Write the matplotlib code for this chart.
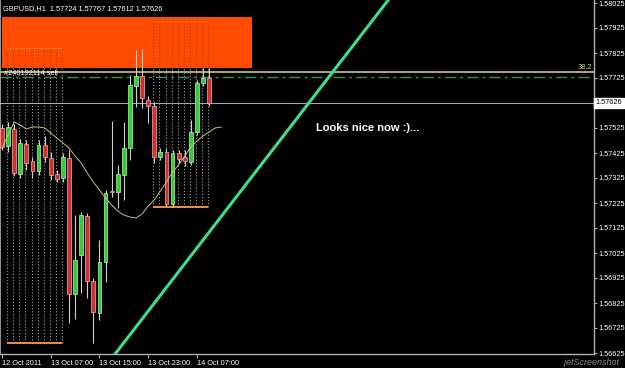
import numpy as np
import matplotlib
matplotlib.use("Agg")
import matplotlib.pyplot as plt
import matplotlib.transforms as mtransforms

# GBPUSD H1 bars, 12 Oct 2011 23:00 .. 14 Oct 2011 09:00
opens = [1.57525, 1.57453, 1.57521, 1.57341, 1.57461, 1.57393, 1.57353, 1.57457, 1.57405, 1.57341,
         1.57325, 1.57405, 1.56861, 1.57017, 1.57173, 1.56913, 1.56785, 1.56989, 1.57273, 1.57269,
         1.57337, 1.57445, 1.57693, 1.57733, 1.57637, 1.57613, 1.57409, 1.57429, 1.57221, 1.57425,
         1.57409, 1.57389, 1.57509, 1.57705, 1.57724]
highs = [1.57541, 1.57549, 1.57541, 1.57481, 1.57477, 1.57409, 1.57477, 1.57493, 1.57429, 1.57357,
         1.57425, 1.57437, 1.57177, 1.57189, 1.57185, 1.56925, 1.57077, 1.57277, 1.57553, 1.57377,
         1.57549, 1.57737, 1.57837, 1.57841, 1.57653, 1.57629, 1.57445, 1.57445, 1.57437, 1.57437,
         1.57437, 1.57557, 1.57717, 1.57765, 1.57767]
lows = [1.57437, 1.57429, 1.57333, 1.57325, 1.57357, 1.57325, 1.57337, 1.57389, 1.57317, 1.57309,
        1.57309, 1.56745, 1.56761, 1.56865, 1.56845, 1.56665, 1.56757, 1.56909, 1.57249, 1.57205,
        1.57237, 1.57397, 1.57609, 1.57605, 1.57545, 1.57385, 1.57397, 1.57213, 1.57209, 1.57385,
        1.57373, 1.57377, 1.57497, 1.57693, 1.57612]
closes = [1.57449, 1.57529, 1.57345, 1.57465, 1.57385, 1.57353, 1.57457, 1.57409, 1.57337, 1.57321,
          1.57409, 1.56861, 1.56997, 1.57177, 1.56913, 1.56789, 1.56989, 1.57265, 1.57269, 1.57341,
          1.57445, 1.57697, 1.57733, 1.57645, 1.57613, 1.57409, 1.57429, 1.57221, 1.57425, 1.57401,
          1.57393, 1.57509, 1.57705, 1.57725, 1.57626]

# moving average (shifted forward, so it runs two bars past the last candle)
ma = [1.57445, 1.57497, 1.57549, 1.57537, 1.57521, 1.57529, 1.57529, 1.57525, 1.57505, 1.57485,
      1.57465, 1.57445, 1.57413, 1.57385, 1.57345, 1.57309, 1.57277, 1.57245, 1.57217, 1.57193,
      1.57177, 1.57169, 1.57165, 1.57181, 1.57213, 1.57237, 1.57273, 1.57309, 1.57349, 1.57377,
      1.57413, 1.57449, 1.57473, 1.57493, 1.57509, 1.57525, 1.57529]

price_ticks = [1.58025, 1.57925, 1.57825, 1.57725, 1.57525, 1.57425, 1.57325, 1.57225,
               1.57125, 1.57025, 1.56925, 1.56825, 1.56725, 1.56625]
time_labels = ["12 Oct 2011", "13 Oct 07:00", "13 Oct 15:00", "13 Oct 23:00", "14 Oct 07:00"]
time_label_bars = [0, 8, 16, 24, 32]

last_price = 1.57626
fib_level = 1.57749
order_price = 1.57731
zone_top, zone_bottom = 1.57969, 1.57765
zone_bars = [0, 41]
left_box_bars = [1, 10]
left_box = [1.57845, 1.56665]
right_box_bars = [25, 34]
right_box = [1.57953, 1.57209]
trend_pts = [(18, 1.56603), (60, 1.57929)]

plt.rcParams['font.family'] = ['Liberation Sans', 'DejaVu Sans']
FS = 5.3

fig = plt.figure(figsize=(6.25, 3.68), dpi=100, facecolor='black')
ax = fig.add_axes([0, 14 / 368, 594 / 625, 354 / 368], facecolor='black')
ax.set_xlim(-0.33, 97.2)
ax.set_ylim(1.56621, 1.58037)
trans = mtransforms.blended_transform_factory(ax.transAxes, ax.transData)

# orange zone rectangle
ax.fill_between(zone_bars, zone_bottom, zone_top, color='#ff4a00', lw=0, zorder=1)

# range boxes made of dotted vertical lines
for bars, (top, bot) in [(left_box_bars, left_box), (right_box_bars, right_box)]:
    xs = np.arange(bars[0], bars[1] + 1) - 0.15
    ax.vlines(xs, bot, zone_bottom, colors='#8a8a8a', lw=0.8, linestyles=(0, (1.2, 1.6)), zorder=2)
    ax.vlines(xs, zone_bottom, top, colors='#b84510', lw=0.8, linestyles=(0, (1.2, 1.6)), zorder=2)
    ax.hlines(top, xs[0], xs[-1], colors='#ff9a40', lw=0.8, linestyles=(0, (1.2, 1.2)), zorder=2)
    ax.hlines(bot, xs[0], xs[-1], colors='#ff9a40', lw=1.3, zorder=2)

# horizontal lines
ax.axhline(fib_level, color='#b8b87a', lw=1.3, zorder=3)
ax.axhline(order_price, color='#3f8a5a', lw=1.0, linestyle=(0, (8, 3, 2, 3)), zorder=3)
ax.axhline(last_price, color='#b0b0b0', lw=0.7, zorder=3)

# candles
x = np.arange(len(opens))
o = np.array(opens)
c = np.array(closes)
up = c >= o
ax.vlines(x, lows, highs, colors='#d0d0d0', lw=0.8, zorder=4)
bottom = np.minimum(o, c)
height = np.maximum(np.abs(c - o), 0.00003)
ax.bar(x[up], height[up], bottom=bottom[up], width=0.62, color='#30d030',
       edgecolor='#b8f0b8', lw=0.5, zorder=5)
ax.bar(x[~up], height[~up], bottom=bottom[~up], width=0.62, color='#d03030',
       edgecolor='#f0b0b0', lw=0.5, zorder=5)

# moving average
ax.plot(np.arange(len(ma)), ma, color='#c8c070', lw=0.7, zorder=6)

# trend line
ax.axline(trend_pts[0], trend_pts[1], color='#3ce08c', lw=2.2, zorder=7)

# texts
ax.text(0.005, 0.985, "GBPUSD,H1  1.57724 1.57767 1.57612 1.57626", transform=ax.transAxes,
        color='white', fontsize=FS, ha='left', va='top', zorder=8)
ax.text(0.997, fib_level + 0.00004, "38.2", transform=trans, color='#d8d890', fontsize=FS,
        ha='right', va='bottom', zorder=8)
ax.text(0.3, fib_level - 0.00005, "#240192114 sell", color='white', fontsize=FS,
        ha='left', va='center', zorder=9)
ax.text(51.5, 1.57525, "Looks nice now :)...", color='white', fontsize=8, fontweight='bold',
        ha='left', va='center', zorder=8)

# axes styling
ax.spines['top'].set_visible(False)
for side in ['right', 'bottom', 'left']:
    ax.spines[side].set_color('#b0b0b0')
    ax.spines[side].set_linewidth(1.0)
ax.spines['left'].set_linewidth(0.6)

ax.yaxis.tick_right()
ax.set_yticks(price_ticks)
ax.set_yticklabels([f"{p:.5f}" for p in price_ticks])
ax.tick_params(axis='y', colors='#b0b0b0', labelcolor='white', length=2.5, width=0.8,
               labelsize=FS, pad=0.8, direction='out')
ax.set_xticks(time_label_bars)
ax.set_xticklabels(time_labels)
for lab in ax.get_xticklabels():
    lab.set_horizontalalignment('left')
ax.tick_params(axis='x', colors='#b0b0b0', labelcolor='white', length=3, width=0.8,
               labelsize=FS, pad=1.0, direction='out')

# current price box
ax.text(1.003, last_price, "1.57626", transform=trans, color='black', fontsize=FS,
        ha='left', va='center', zorder=9, clip_on=False,
        bbox=dict(boxstyle='square,pad=0.2', fc='white', ec='white'))

fig.text(0.99, 0.004, "jetScreenshot", color='#8a8a8a', fontsize=6.5, style='italic',
         ha='right', va='bottom')

fig.savefig("out.png", dpi=100, facecolor='black')
